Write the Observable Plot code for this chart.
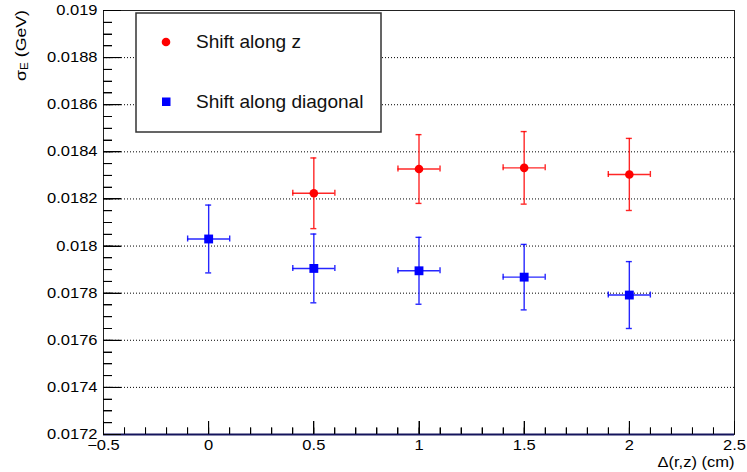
<!DOCTYPE html>
<html><head><meta charset="utf-8">
<script src="https://cdn.jsdelivr.net/npm/d3@7"></script>
<script src="https://cdn.jsdelivr.net/npm/@observablehq/plot@0.6"></script>
<style>
html,body{margin:0;padding:0;background:#fff;}
#chart{width:747px;height:472px;position:relative;}
</style></head><body>
<div id="chart"></div>
<script>
// ---- data ----
const seriesNames = ["Shift along z", "Shift along diagonal"];
const seriesColors = ["#ff0000", "#0000ff"];
const xZ = [0.5, 1, 1.5, 2];
const sigmaZ = [0.018224, 0.018327, 0.018332, 0.018304];
const errZ = [0.00015, 0.000146, 0.000154, 0.000153];
const xD = [0, 0.5, 1, 1.5, 2];
const sigmaD = [0.01803, 0.017905, 0.017895, 0.017868, 0.017792];
const errD = [0.000144, 0.000146, 0.000142, 0.000139, 0.000142];
const xErr = 0.1;
const xDomain = [-0.5, 2.5];
const yDomain = [0.0172, 0.019];
const yTicks = [0.0172, 0.0174, 0.0176, 0.0178, 0.018, 0.0182, 0.0184, 0.0186, 0.0188, 0.019];
const yTickLabels = ["0.0172","0.0174","0.0176","0.0178","0.018","0.0182","0.0184","0.0186","0.0188","0.019"];
const xTicks = [-0.5, 0, 0.5, 1, 1.5, 2, 2.5];
const xTickLabels = ["\u22120.5","0","0.5","1","1.5","2","2.5"];
const xTitle = "\u0394(r,z) (cm)";
const yTitleMain = "\u03c3", yTitleSub = "E", yTitleUnit = " (GeV)";

// ---- derived ----
const ptsZ = xZ.map((x, i) => ({x, y: sigmaZ[i], e: errZ[i]}));
const ptsD = xD.map((x, i) => ({x, y: sigmaD[i], e: errD[i]}));
const yMinor = d3.range(0, 37).map(i => yDomain[0] + i * 0.00005);
const xMinor = d3.range(0, 31).map(i => xDomain[0] + i * 0.1);

function errorMarks(pts, color) {
  const s = {stroke: color, strokeWidth: 1.4, strokeOpacity: 0.85};
  const cap = 3;
  return [
    Plot.ruleX(pts, {x: "x", y1: d => d.y - d.e, y2: d => d.y + d.e, ...s}),
    Plot.ruleY(pts, {y: "y", x1: d => d.x - xErr, x2: d => d.x + xErr, ...s}),
    Plot.ruleY(pts, {y: d => d.y + d.e, x1: "x", x2: "x", insetLeft: -cap, insetRight: -cap, ...s}),
    Plot.ruleY(pts, {y: d => d.y - d.e, x1: "x", x2: "x", insetLeft: -cap, insetRight: -cap, ...s}),
    Plot.ruleX(pts, {x: d => d.x - xErr, y1: "y", y2: "y", insetTop: -cap, insetBottom: -cap, ...s}),
    Plot.ruleX(pts, {x: d => d.x + xErr, y1: "y", y2: "y", insetTop: -cap, insetBottom: -cap, ...s})
  ];
}

function yTickMarks(values, len) {
  return Plot.ruleY(values, {y: d => d, x1: () => xDomain[0], x2: () => xDomain[0], insetRight: -len, stroke: "#000", strokeWidth: 1});
}
function xTickMarks(values, len) {
  return Plot.ruleX(values, {x: d => d, y1: () => yDomain[0], y2: () => yDomain[0], insetTop: -len, stroke: "#000", strokeWidth: 1});
}

const svg = Plot.plot({
  width: 747, height: 472,
  marginLeft: 103, marginRight: 13, marginTop: 10, marginBottom: 38,
  style: {fontFamily: "'Liberation Sans', Arial, sans-serif", fontSize: "14px", color: "#000", background: "#fff"},
  x: {domain: xDomain},
  y: {domain: yDomain},
  marks: [
    Plot.ruleY(yTicks, {stroke: "#000", strokeDasharray: "1,2", strokeWidth: 1}),
    Plot.frame({stroke: "#222", strokeWidth: 1}),
    ...errorMarks(ptsZ, seriesColors[0]),
    ...errorMarks(ptsD, seriesColors[1]),
    Plot.dot(ptsZ, {x: "x", y: "y", symbol: "circle", r: 4.3, fill: seriesColors[0]}),
    Plot.dot(ptsD, {x: "x", y: "y", symbol: "square", r: 5, fill: seriesColors[1]}),
    yTickMarks(yMinor, 9),
    yTickMarks(yTicks, 18),
    xTickMarks(xMinor, 6.5),
    xTickMarks(xTicks, 13),
    Plot.ruleY([yDomain[0]], {stroke: "#14145c", strokeWidth: 2}),
    Plot.axisY(yTicks, {tickSize: 0, tickPadding: 6, fontSize: 14, label: null,
      tickFormat: d => yTickLabels[yTicks.indexOf(d)]}),
    Plot.axisX(xTicks, {tickSize: 0, tickPadding: 6, fontSize: 14, label: null,
      tickFormat: d => xTickLabels[xTicks.indexOf(d)]}),
    Plot.text([xTitle], {frameAnchor: "bottom-right", textAnchor: "end", lineAnchor: "bottom", dy: 32, fontSize: 14})
  ]
});

// widen Helvetica-like glyphs to match the reference rendering
svg.querySelectorAll("text").forEach(t => {
  const tr = t.getAttribute("transform") || "";
  t.setAttribute("transform", tr + " scale(1.18,1)");
});

const S = d3.select(svg);

// extra inward ticks drawn from Plot's own scales (on top of everything)
try {
  const sx = svg.scale("x"), sy = svg.scale("y");
  const x0 = sx.apply(xDomain[0]), y0 = sy.apply(yDomain[0]);
  const tg = S.append("g").attr("stroke", "#000").attr("stroke-width", 1);
  const addY = (vals, len) => vals.forEach(v => {
    const y = Math.round(sy.apply(v)) + 0.5;
    tg.append("line").attr("x1", x0).attr("x2", x0 + len).attr("y1", y).attr("y2", y);
  });
  const addX = (vals, len) => vals.forEach(v => {
    const x = Math.round(sx.apply(v)) + 0.5;
    tg.append("line").attr("x1", x).attr("x2", x).attr("y1", y0).attr("y2", y0 - len);
  });
  addY(yMinor, 9); addY(yTicks, 18); addX(xMinor, 6.5); addX(xTicks, 13);
} catch (e) {}

// y title with subscript
const yt = S.append("text")
  .attr("transform", "translate(25.5,10) rotate(-90) scale(1.18,1)")
  .attr("text-anchor", "end").attr("font-size", 15).attr("fill", "#000");
yt.append("tspan").text(yTitleMain);
yt.append("tspan").attr("font-size", 10).attr("dy", 2).text(yTitleSub);
yt.append("tspan").attr("dy", -2).text(yTitleUnit);

// legend box
const lg = S.append("g").attr("transform", "translate(136,13)");
lg.append("rect").attr("x", 0).attr("y", 0).attr("width", 245).attr("height", 119)
  .attr("fill", "#fff").attr("stroke", "#333").attr("stroke-width", 1.5);
lg.append("circle").attr("cx", 30).attr("cy", 29).attr("r", 4.3).attr("fill", seriesColors[0]);
lg.append("rect").attr("x", 26).attr("y", 84.5).attr("width", 8.5).attr("height", 8.5).attr("fill", seriesColors[1]);
lg.append("text").attr("text-anchor", "start").attr("transform", "translate(60,34.5) scale(1.06,1)").attr("font-size", 18).attr("fill", "#111").text(seriesNames[0]);
lg.append("text").attr("text-anchor", "start").attr("transform", "translate(60,95) scale(1.06,1)").attr("font-size", 18).attr("fill", "#111").text(seriesNames[1]);

document.getElementById("chart").appendChild(svg);
</script>
</body></html>
